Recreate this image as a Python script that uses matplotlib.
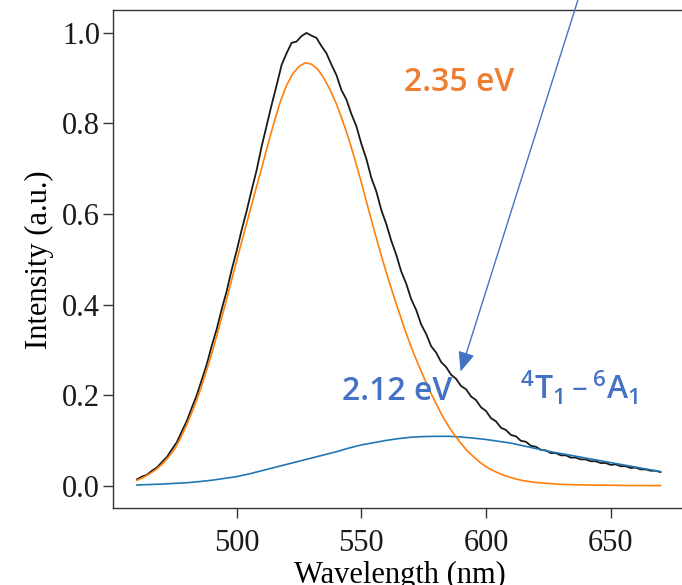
import matplotlib.pyplot as plt

# fitted 2.35 eV component
wl_green = [460 + 2.5 * i for i in range(65)] + [625, 630, 635, 640, 645,
                                                 650, 655, 660, 665, 670]
peak_green = [0.012, 0.018, 0.026, 0.035, 0.047, 0.062, 0.080, 0.105, 0.135,
              0.168, 0.205, 0.247, 0.292, 0.341, 0.392, 0.444, 0.497, 0.549,
              0.600, 0.651, 0.701, 0.753, 0.803, 0.848, 0.884, 0.910, 0.926,
              0.934, 0.931, 0.920, 0.900, 0.874, 0.843, 0.806, 0.765, 0.719,
              0.670, 0.618, 0.567, 0.518, 0.471, 0.427, 0.385, 0.344, 0.306,
              0.272, 0.240, 0.209, 0.181, 0.154, 0.131, 0.111, 0.093, 0.077,
              0.064, 0.052, 0.042, 0.034, 0.028, 0.022, 0.018, 0.014, 0.011,
              0.009, 0.007,
              0.005, 0.003, 0.002, 0.0015, 0.001, 0.001, 0.0005, 0.0005,
              0.0003, 0.0002]

# fitted 2.12 eV component, every 5 nm
wl_red = list(range(460, 671, 5))
peak_red = [0.0015, 0.0025, 0.0035, 0.005, 0.0065, 0.009, 0.012, 0.016, 0.020,
            0.026, 0.033, 0.040, 0.047, 0.054, 0.061, 0.068, 0.075, 0.083,
            0.090, 0.095, 0.100, 0.104, 0.107, 0.1085, 0.109, 0.109, 0.1075,
            0.105, 0.102, 0.098, 0.094, 0.088, 0.082, 0.076, 0.071, 0.066,
            0.061, 0.056, 0.051, 0.046, 0.041, 0.036, 0.031]

# measured spectrum, every 2 nm
wl_meas = list(range(460, 671, 2))
measured = [0.014, 0.020, 0.024, 0.033, 0.040, 0.052, 0.063, 0.080, 0.096,
            0.120, 0.143, 0.172, 0.200, 0.234, 0.268, 0.309, 0.346, 0.390,
            0.430, 0.477, 0.519, 0.565, 0.607, 0.653, 0.697, 0.749, 0.795,
            0.841, 0.884, 0.929, 0.955, 0.978, 0.981, 0.993, 1.000, 0.994,
            0.989, 0.971, 0.955, 0.930, 0.907, 0.874, 0.853, 0.821, 0.794,
            0.755, 0.722, 0.680, 0.650, 0.609, 0.578, 0.541, 0.510, 0.473,
            0.446, 0.412, 0.388, 0.356, 0.335, 0.308, 0.294, 0.273, 0.262,
            0.245, 0.236, 0.220, 0.213, 0.197, 0.189, 0.173, 0.165, 0.149,
            0.142, 0.128, 0.123, 0.112, 0.109, 0.099, 0.097, 0.088, 0.086,
            0.079, 0.078, 0.072, 0.072, 0.067, 0.067, 0.062, 0.062, 0.058,
            0.058, 0.054, 0.054, 0.050, 0.050, 0.046, 0.047, 0.043, 0.043,
            0.039, 0.040, 0.036, 0.036, 0.033, 0.033, 0.030]

x_ticks = [500, 550, 600, 650]
y_ticks = [0.0, 0.2, 0.4, 0.6, 0.8, 1.0]

ORANGE_TXT = '#ED7D31'
BLUE_TXT = '#4472C4'
SERIF = ['Liberation Serif', 'DejaVu Serif']
SANS = ['Open Sans', 'DejaVu Sans']

fig = plt.figure(figsize=(6.82, 5.85), dpi=100)
ax = fig.add_axes([0.1661, 0.1311, 0.8408, 0.8513])

ax.plot(wl_meas, measured, color='#1a1a1a', linewidth=1.3)
ax.plot(wl_red, peak_red, color='#1f77b4', linewidth=1.2)
ax.plot(wl_green, peak_green, color='#ff7f0e', linewidth=1.2)

ax.set_xlim(450.5, 680.5)
ax.set_ylim(-0.05, 1.05)
ax.set_xticks(x_ticks)
ax.set_yticks(y_ticks)
ax.set_yticklabels(['%.1f' % v for v in y_ticks])

for side in ax.spines.values():
    side.set_color('#333333')
    side.set_linewidth(1.0)
ax.tick_params(axis='both', length=7, width=1.0, color='#333333',
               labelsize=22, labelcolor='#1a1a1a')
ax.tick_params(axis='x', pad=8)
ax.tick_params(axis='y', pad=2.5)
for lab in ax.get_xticklabels() + ax.get_yticklabels():
    lab.set_fontfamily(SERIF)

ax.set_xlabel('Wavelength (nm)', fontsize=22, family=SERIF, labelpad=2)
ax.set_ylabel('Intensity (a.u.)', fontsize=22, family=SERIF, labelpad=6)

ax.text(589.1, 0.8707, '2.35 eV', color=ORANGE_TXT, fontsize=23,
        family=SANS, weight='semibold', ha='center', va='baseline')
ax.text(564.3, 0.1894, '2.12 eV', color=BLUE_TXT, fontsize=23,
        family=SANS, weight='semibold', ha='center', va='baseline')
ax.text(637.6, 0.1894, '$\\mathregular{^4T_1\\,\u2013\\,^6A_1}$',
        color=BLUE_TXT, fontsize=23, family=SANS, weight='semibold',
        ha='center', va='baseline')

ax.annotate('', xy=(589.8, 0.252), xytext=(639.4, 1.117),
            annotation_clip=False,
            arrowprops=dict(arrowstyle='-|>,head_length=1.2,head_width=0.5',
                            mutation_scale=10, color=BLUE_TXT, linewidth=1.0,
                            shrinkA=0, shrinkB=0))

fig.savefig('out.png', dpi=100)
